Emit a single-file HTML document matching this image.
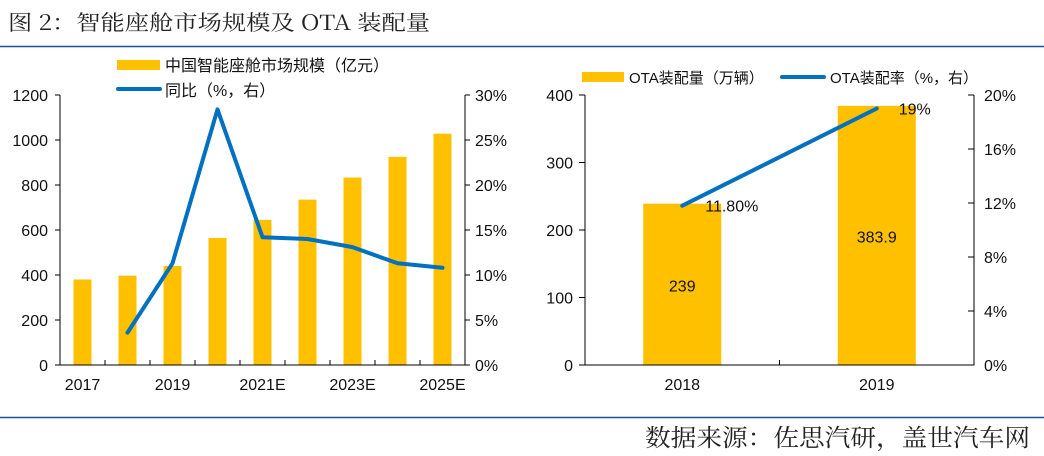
<!DOCTYPE html>
<html><head><meta charset="utf-8"><style>
body{margin:0;background:#fff;}
svg{display:block;font-family:"Liberation Sans","Noto Sans CJK SC",sans-serif;}
</style></head><body>
<svg width="1044" height="456" viewBox="0 0 1044 456">
<text x="8" y="30" font-size="21" fill="#222" textLength="422" lengthAdjust="spacingAndGlyphs" font-family="'Noto Serif CJK SC','Liberation Serif',serif">图 2：智能座舱市场规模及 OTA 装配量</text>
<line x1="0" y1="46.5" x2="1044" y2="46.5" stroke="#1f4e9a" stroke-width="1.5"/>
<line x1="0" y1="417.5" x2="1044" y2="417.5" stroke="#1f4e9a" stroke-width="1.5"/>
<text x="645" y="446" font-size="24" textLength="385" lengthAdjust="spacingAndGlyphs" fill="#222" font-family="'Noto Serif CJK SC','Liberation Serif',serif">数据来源：佐思汽研，盖世汽车网</text>
<g id="left"></g>
<g id="right"></g>
</svg>
<script>
const cats1=["2017","2018","2019","2020","2021E","2022E","2023E","2024E","2025E"];
const size1=[380,397,440,565,645,735,833,925,1028];
const yoy1=[null,3.6,11.3,28.4,14.2,14.0,13.1,11.3,10.8];
const leftTicks=[0,200,400,600,800,1000,1200];
const rightTicks1=[0,5,10,15,20,25,30];
const cats2=["2018","2019"];
const vol2=[239,383.9];
const rate2=[11.8,19];
const volLabels2=["239","383.9"];
const rateLabels2=["11.80%","19%"];
const leftTicks2=[0,100,200,300,400];
const rightTicks2=[0,4,8,12,16,20];
const NS="http://www.w3.org/2000/svg";
function mk(p,t,a,txt){const e=document.createElementNS(NS,t);for(const k in a)e.setAttribute(k,a[k]);if(txt!=null)e.textContent=txt;p.appendChild(e);return e;}
const Y0=365,Y1=95;
(function(){
const g=document.getElementById('left');
const x0=60,x1=465,n=cats1.length,bw=(x1-x0)/n;
const y=v=>Y0-(v/1200)*(Y0-Y1), yr=v=>Y0-(v/30)*(Y0-Y1);
const xc=i=>x0+bw*(i+0.5);
size1.forEach((v,i)=>{const r=mk(g,'rect',{x:xc(i)-9,y:y(v),width:18,height:Y0-y(v),fill:'#ffc000'});

});
mk(g,'path',{d:`M${x0} ${Y1}V${Y0}H${x1}V${Y1}`,fill:'none',stroke:'#000','stroke-width':1});
leftTicks.forEach(t=>{mk(g,'line',{x1:x0-5,x2:x0,y1:y(t),y2:y(t),stroke:'#000'});
const l=mk(g,'text',{x:x0-12,y:y(t)+6,'font-size':16,'text-anchor':'end',fill:'#111'},String(t));

});
rightTicks1.forEach(t=>{mk(g,'line',{x1:x1,x2:x1+5,y1:yr(t),y2:yr(t),stroke:'#000'});
const l=mk(g,'text',{x:x1+10,y:yr(t)+6,'font-size':16,fill:'#111'},t+'%');

});
for(let i=1;i<n;i++)mk(g,'line',{x1:x0+bw*i,x2:x0+bw*i,y1:Y0,y2:Y0-5,stroke:'#000'});
cats1.forEach((c,i)=>{if(i%2==0){const l=mk(g,'text',{x:xc(i),y:390,'font-size':16,'text-anchor':'middle',fill:'#111'},c);

}});
let d='';yoy1.forEach((v,i)=>{if(v==null)return;d+=(d?'L':'M')+xc(i)+' '+yr(v);});
const p=mk(g,'path',{d:d,fill:'none',stroke:'#0070c0','stroke-width':4,'stroke-linejoin':'round','stroke-linecap':'round'});


const lg=mk(g,'g',{});


mk(lg,'rect',{x:117,y:60,width:43,height:10,fill:'#ffc000'});
mk(lg,'text',{x:165,y:71,'font-size':16,fill:'#111'},'中国智能座舱市场规模（亿元）');
mk(lg,'line',{x1:118,x2:160,y1:89,y2:89,stroke:'#0070c0','stroke-width':4,'stroke-linecap':'round'});
mk(lg,'text',{x:165,y:96,'font-size':16,fill:'#111'},'同比（%，右）');
})();
(function(){
const g=document.getElementById('right');
const x0=585,x1=974,n=cats2.length,bw=(x1-x0)/n;
const y=v=>Y0-(v/400)*(Y0-Y1), yr=v=>Y0-(v/20)*(Y0-Y1);
const xc=i=>x0+bw*(i+0.5);
vol2.forEach((v,i)=>{const r=mk(g,'rect',{x:xc(i)-39,y:y(v),width:78,height:Y0-y(v),fill:'#ffc000'});


mk(g,'text',{x:xc(i),y:(y(v)+Y0)/2+7,'font-size':16,'text-anchor':'middle',fill:'#111'},volLabels2[i]);});
mk(g,'path',{d:`M${x0} ${Y1}V${Y0}H${x1}V${Y1}`,fill:'none',stroke:'#000'});
leftTicks2.forEach(t=>{mk(g,'line',{x1:x0-6,x2:x0,y1:y(t),y2:y(t),stroke:'#000'});
mk(g,'text',{x:x0-12,y:y(t)+6,'font-size':16,'text-anchor':'end',fill:'#111'},String(t));});
rightTicks2.forEach(t=>{mk(g,'line',{x1:x1,x2:x1-6,y1:yr(t),y2:yr(t),stroke:'#000'});
mk(g,'text',{x:x1+10,y:yr(t)+6,'font-size':16,fill:'#111'},t+'%');});
mk(g,'line',{x1:x0+bw,x2:x0+bw,y1:Y0,y2:Y0-5,stroke:'#000'});
cats2.forEach((c,i)=>mk(g,'text',{x:xc(i),y:390,'font-size':16,'text-anchor':'middle',fill:'#111'},c));
let d='';rate2.forEach((v,i)=>{d+=(d?'L':'M')+xc(i)+' '+yr(v);});
const p=mk(g,'path',{d:d,fill:'none',stroke:'#0070c0','stroke-width':4,'stroke-linecap':'round'});


mk(g,'text',{x:xc(0)+23,y:yr(rate2[0])+6,'font-size':16,fill:'#111'},rateLabels2[0]);
mk(g,'text',{x:xc(1)+22,y:yr(rate2[1])+6,'font-size':16,fill:'#111'},rateLabels2[1]);
const lg=mk(g,'g',{});


mk(lg,'rect',{x:582,y:72,width:42,height:10,fill:'#ffc000'});
mk(lg,'text',{x:629,y:83,'font-size':15,fill:'#111'},'OTA装配量（万辆）');
mk(lg,'line',{x1:782,x2:824,y1:77,y2:77,stroke:'#0070c0','stroke-width':4,'stroke-linecap':'round'});
mk(lg,'text',{x:830,y:83,'font-size':15,fill:'#111'},'OTA装配率（%，右）');
})();
</script>
</body></html>
